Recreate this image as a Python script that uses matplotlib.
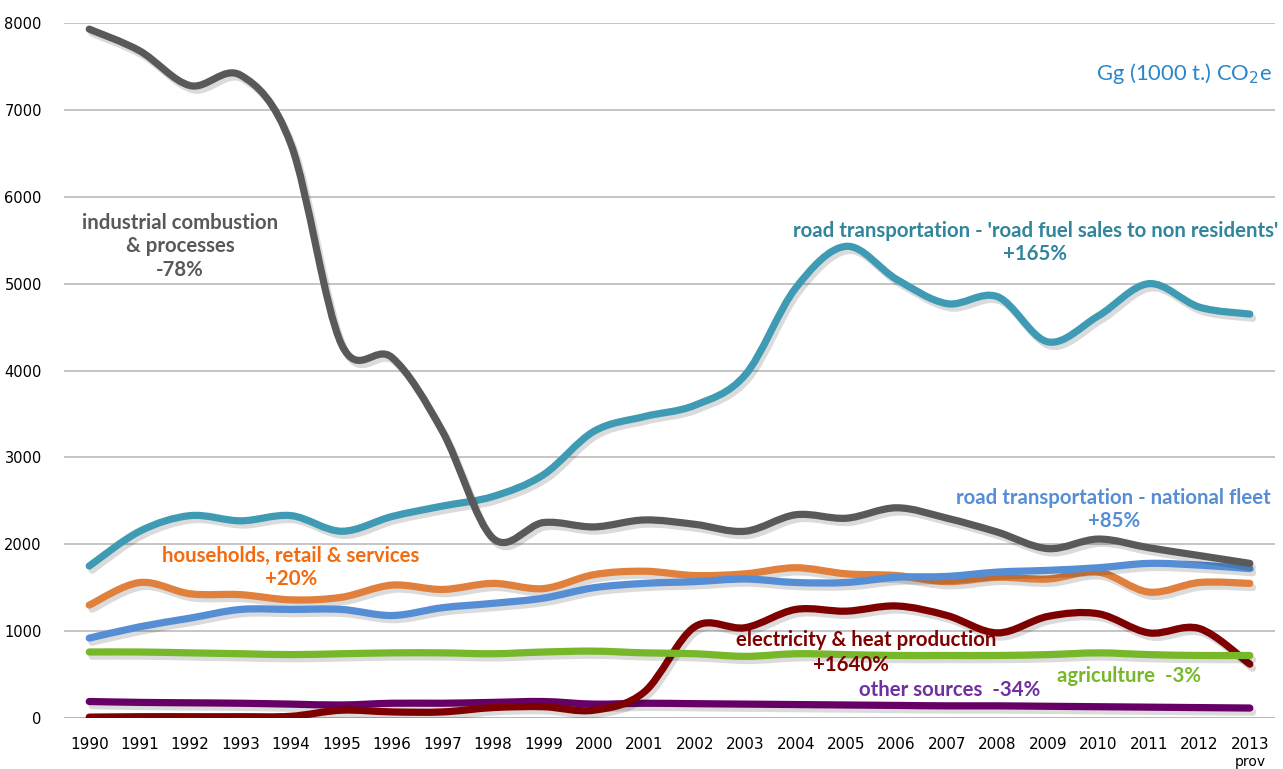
import numpy as np
import matplotlib
matplotlib.use("Agg")
import matplotlib.pyplot as plt
from matplotlib.path import Path
from matplotlib.patches import PathPatch
import matplotlib.patheffects as pe

# Datos (Gg CO2e)
years = list(range(1990, 2014))
year_labels = [str(y) for y in years]

industrial = [7930, 7680, 7280, 7400, 6600, 4300, 4150, 3300, 2070, 2250, 2200, 2280,
              2230, 2150, 2340, 2300, 2420, 2300, 2140, 1950, 2060, 1960, 1870, 1780]
road_nonres = [1750, 2150, 2330, 2270, 2330, 2150, 2320, 2440, 2550, 2800, 3300, 3470,
               3600, 3950, 4950, 5430, 5050, 4770, 4850, 4330, 4630, 5000, 4730, 4650]
road_national = [920, 1050, 1150, 1250, 1250, 1250, 1180, 1270, 1320, 1380, 1500, 1550,
                 1570, 1600, 1560, 1560, 1620, 1630, 1680, 1700, 1730, 1780, 1760, 1720]
households = [1300, 1560, 1430, 1420, 1360, 1390, 1530, 1480, 1550, 1490, 1650, 1690,
              1640, 1660, 1730, 1660, 1640, 1570, 1620, 1600, 1680, 1450, 1560, 1550]
electricity = [10, 15, 15, 15, 20, 90, 70, 70, 120, 130, 90, 300,
               1050, 1040, 1250, 1230, 1290, 1180, 980, 1170, 1200, 980, 1030, 620]
agriculture = [760, 760, 750, 740, 730, 740, 750, 750, 740, 760, 770, 750,
               740, 710, 740, 730, 720, 720, 720, 730, 750, 730, 720, 720]
other = [190, 180, 175, 170, 160, 150, 170, 170, 180, 190, 160, 170,
         165, 160, 155, 150, 145, 140, 140, 135, 130, 125, 120, 115]


def smooth_path(xs, ys, t=1.0 / 6):
    # curva tipo Excel: Catmull-Rom pasado a Bezier cubico
    xs = np.asarray(xs, float)
    ys = np.asarray(ys, float)
    pts = np.column_stack([xs, ys])
    verts = [pts[0]]
    codes = [Path.MOVETO]
    n = len(pts)
    for i in range(n - 1):
        p0 = pts[max(i - 1, 0)]
        p1 = pts[i]
        p2 = pts[i + 1]
        p3 = pts[min(i + 2, n - 1)]
        c1 = p1 + (p2 - p0) * t
        c2 = p2 - (p3 - p1) * t
        verts += [c1, c2, p2]
        codes += [Path.CURVE4] * 3
    return Path(verts, codes)


fig = plt.figure(figsize=(12.83, 7.69), dpi=100)
ax = fig.add_axes([0.0499, 0.0663, 0.9439, 0.9037])

series = [
    (other, "#660066"),
    (electricity, "#7F0000"),
    (agriculture, "#77B82A"),
    (households, "#E0803C"),
    (road_national, "#558ED5"),
    (road_nonres, "#3F9AB4"),
    (industrial, "#595959"),
]

shadow = [pe.SimpleLineShadow(offset=(2, -3), shadow_color="black", alpha=0.14),
          pe.Normal()]

for vals, col in series:
    patch = PathPatch(smooth_path(years, vals), fill=False, edgecolor=col, lw=5.2,
                      capstyle="round", joinstyle="round", zorder=3)
    patch.set_path_effects(shadow)
    ax.add_patch(patch)

ax.set_xlim(1989.5, 2013.5)
ax.set_ylim(0, 8000)
ax.set_yticks(range(0, 8001, 1000))
ax.set_xticks(years)
ax.set_xticklabels(year_labels, family=["Liberation Sans Narrow", "DejaVu Sans"], fontsize=11)
ax.tick_params(axis="y", labelsize=10.5, colors="black", length=0, pad=16)
ax.tick_params(axis="x", length=0, pad=14)
ax.grid(axis="y", color="#BBBBBB", lw=1.2, zorder=0)
for s in ["top", "right", "left", "bottom"]:
    ax.spines[s].set_visible(False)
ax.axhline(0, color="#999999", lw=1.2, zorder=1)

ax.text(2013, -505, "prov", ha="center", va="center", fontsize=10,
        family=["Liberation Sans Narrow", "DejaVu Sans"])

lab = dict(ha="center", va="center", fontsize=14.7, fontweight="bold", family="Lato",
           linespacing=1.2, zorder=5)
ax.text(1991.8, 5430, "industrial combustion\n& processes\n-78%", color="#595959", **lab)
ax.text(2008.75, 5470, "road transportation - 'road fuel sales to non residents'\n+165%",
        color="#31859C", **lab)
ax.text(2010.3, 2400, "road transportation - national fleet\n+85%", color="#558ED5", **lab)
ax.text(1994.0, 1730, "households, retail & services\n+20%", color="#F26B10", **lab)
ax.text(2005.4, 898, "electricity & heat production", color="#7F0000", **lab)
ax.text(2005.1, 610, "+1640%", color="#7F0000", **lab)
ax.text(2010.6, 483, "agriculture  -3%", color="#77B82A", **lab)
ax.text(2007.05, 322, "other sources  -34%", color="#7030A0", **lab)

ax.text(0.9975, 0.927, "Gg (1000 t.) CO$_2$e", transform=ax.transAxes, ha="right",
        va="center", fontsize=15.8, color="#2A86C8", family="Lato")

fig.savefig("out.png", dpi=100)
